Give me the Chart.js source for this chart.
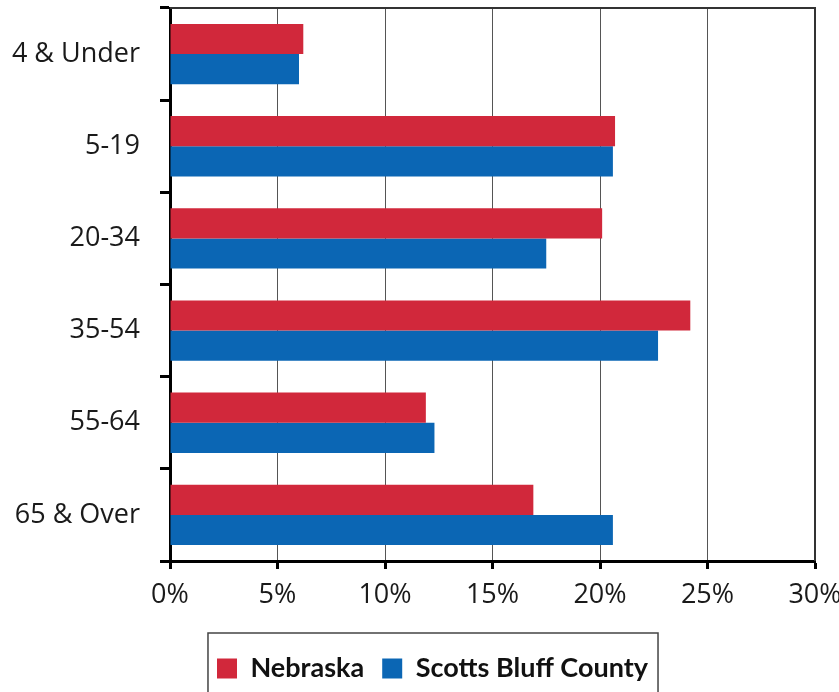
<!DOCTYPE html>
<html>
<head>
<meta charset="utf-8">
<script src="https://cdn.jsdelivr.net/npm/chart.js@4.4.1/dist/chart.umd.min.js"></script>
<style>
  html, body { margin: 0; padding: 0; background: #fff; }
  #wrap { width: 839px; height: 692px; }
</style>
</head>
<body>
<div id="wrap"><canvas id="chart" width="839" height="692"></canvas></div>
<script>
var ageGroups = ['4 & Under', '5-19', '20-34', '35-54', '55-64', '65 & Over'];
var nebraska = [6.2, 20.7, 20.1, 24.2, 11.9, 16.9];
var scottsBluff = [6.0, 20.6, 17.5, 22.7, 12.3, 20.6];
var xTicks = [0, 5, 10, 15, 20, 25, 30];

var legendShift = 25;

// thin frame on top and right of the plot, and a box around the legend
var framePlugin = {
    id: 'frame',
    afterLayout: function(chart) {
        // the legend in the original sits a little right of centre
        chart.legend.left += legendShift;
        chart.legend.right += legendShift;
    },
    afterDraw: function(chart) {
        var ctx = chart.ctx;
        var a = chart.chartArea;
        ctx.save();
        ctx.strokeStyle = '#333';
        ctx.lineWidth = 2;
        ctx.beginPath();
        ctx.moveTo(a.left, a.top);
        ctx.lineTo(a.right, a.top);
        ctx.lineTo(a.right, a.bottom);
        ctx.stroke();

        // hit boxes already follow the shifted legend
        var lg = chart.legend;
        if (lg && lg.legendHitBoxes && lg.legendHitBoxes.length) {
            var first = lg.legendHitBoxes[0];
            var last = lg.legendHitBoxes[lg.legendHitBoxes.length - 1];
            var x0 = first.left - 9;
            var x1 = last.left + last.width + 10;
            ctx.strokeStyle = '#444';
            ctx.lineWidth = 1.5;
            ctx.strokeRect(x0, 633, x1 - x0, 80);
        }
        ctx.restore();
    }
};

var ctx = document.getElementById('chart').getContext('2d');
var chart = new Chart(ctx, {
    type: 'bar',
    data: {
        labels: ageGroups,
        datasets: [{
            label: 'Nebraska',
            data: nebraska,
            backgroundColor: '#D1283B',
            borderWidth: 0,
            categoryPercentage: 0.655,
            barPercentage: 1.0
        }, {
            label: 'Scotts Bluff County',
            data: scottsBluff,
            backgroundColor: '#0B66B4',
            borderWidth: 0,
            categoryPercentage: 0.655,
            barPercentage: 1.0
        }]
    },
    options: {
        indexAxis: 'y',
        responsive: false,
        animation: false,
        layout: { padding: { top: 8, right: 24, left: 0, bottom: 0 } },
        plugins: {
            tooltip: { enabled: false },
            legend: {
                position: 'bottom',
                labels: {
                    font: { family: 'Lato', size: 27, weight: 'bold' },
                    color: '#111',
                    boxWidth: 20,
                    boxHeight: 20,
                    padding: 18
                }
            }
        },
        scales: {
            x: {
                min: 0,
                max: 30,
                afterBuildTicks: function(scale) {
                    scale.ticks = xTicks.map(function(v) { return { value: v }; });
                },
                afterFit: function(scale) {
                    scale.height = 76;
                    scale.paddingLeft = 0;
                    scale.paddingRight = 0;
                },
                grid: {
                    color: '#555',
                    lineWidth: 1,
                    tickColor: '#000',
                    tickWidth: 3,
                    tickLength: 8
                },
                border: { display: true, color: '#000', width: 3 },
                ticks: {
                    font: { family: 'Open Sans', size: 27 },
                    color: '#1a1a1a',
                    padding: 10,
                    callback: function(v) { return v + '%'; }
                }
            },
            y: {
                afterFit: function(scale) {
                    scale.width = 170;
                    scale.paddingTop = 0;
                    scale.paddingBottom = 0;
                },
                grid: {
                    offset: true,
                    drawOnChartArea: false,
                    tickColor: '#000',
                    tickWidth: 3,
                    tickLength: 10
                },
                border: { display: true, color: '#000', width: 3 },
                ticks: {
                    font: { family: 'Open Sans', size: 27 },
                    color: '#1a1a1a',
                    padding: 20
                }
            }
        }
    },
    plugins: [framePlugin]
});
</script>
</body>
</html>
